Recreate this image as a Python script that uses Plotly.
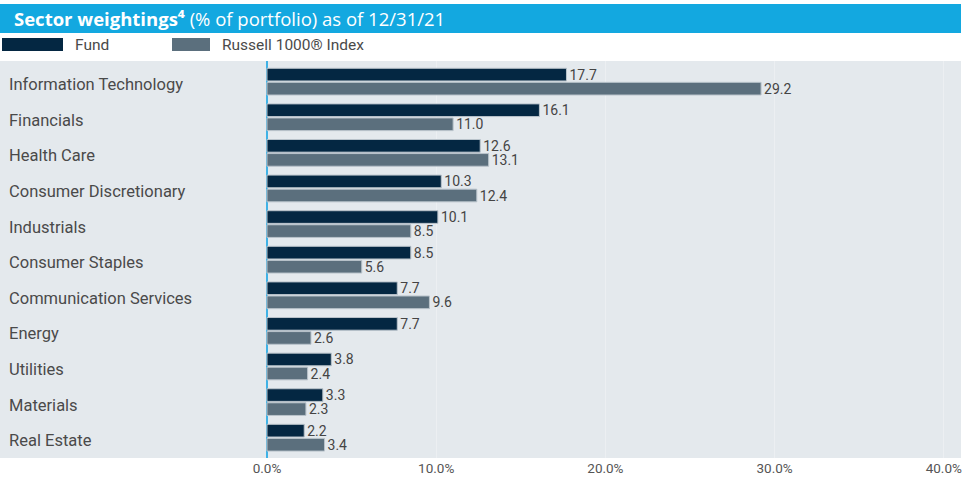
import plotly.graph_objects as go

categories = ["Information Technology", "Financials", "Health Care", "Consumer Discretionary",
              "Industrials", "Consumer Staples", "Communication Services", "Energy",
              "Utilities", "Materials", "Real Estate"]
fund = [17.7, 16.1, 12.6, 10.3, 10.1, 8.5, 7.7, 7.7, 3.8, 3.3, 2.2]
index = [29.2, 11.0, 13.1, 12.4, 8.5, 5.6, 9.6, 2.6, 2.4, 2.3, 3.4]
tick_vals = [0, 10, 20, 30, 40]
tick_text = ["0.0%", "10.0%", "20.0%", "30.0%", "40.0%"]

W, H = 977, 478
L, R, T, B = 0, 16, 61, 20
PW, PH = W - L - R, H - T - B

def px(p):
    return (p - L) / PW

def py(p):
    return (H - B - p) / PH

FUND_C = "#042742"
IDX_C = "#5b6f7d"
LABEL_FONT = "Roboto"
NUM_FONT = "Roboto"

fig = go.Figure()
fig.add_trace(go.Bar(
    y=categories, x=fund, orientation="h", name="Fund",
    marker=dict(color=FUND_C, line=dict(color="#b9c3cb", width=1)),
    text=[f"{v:.1f}" for v in fund], textposition="outside", constraintext="none",
    textfont=dict(family=NUM_FONT, size=14, color="#444444"),
    cliponaxis=False, hoverinfo="skip"))
fig.add_trace(go.Bar(
    y=categories, x=index, orientation="h", name="Russell 1000® Index",
    marker=dict(color=IDX_C, line=dict(color="#b9c3cb", width=1)),
    text=[f"{v:.1f}" for v in index], textposition="outside", constraintext="none",
    textfont=dict(family=NUM_FONT, size=14, color="#444444"),
    cliponaxis=False, hoverinfo="skip"))

x_left = -267 / 16.92
x_right = (961 - 267) / 16.92

fig.update_layout(
    width=W, height=H,
    margin=dict(l=L, r=R, t=T, b=B),
    paper_bgcolor="white", plot_bgcolor="#e4e9ed",
    barmode="group", bargap=0.21, bargroupgap=0.1,
    showlegend=False,
    xaxis=dict(range=[x_left, x_right], tickvals=tick_vals, ticktext=tick_text,
               showgrid=True, gridcolor="#eceff2", gridwidth=1,
               zeroline=True, zerolinecolor="#3fb2e6", zerolinewidth=2,
               tickfont=dict(family=NUM_FONT, size=13.5, color="#555555"),
               ticks="", fixedrange=True),
    yaxis=dict(categoryorder="array", categoryarray=categories,
               range=[10.57, -0.58], showticklabels=False, showgrid=False,
               zeroline=False, fixedrange=True),
)

# category labels
for c in categories:
    fig.add_annotation(x=px(7), xref="paper", y=c, yref="y", text=c, showarrow=False,
                       xanchor="left", yanchor="middle", yshift=-3,
                       font=dict(family=LABEL_FONT, size=16.5, color="#4a4a4a"))

# title banner
fig.add_shape(type="rect", xref="paper", yref="paper", x0=px(0), x1=px(961),
              y0=py(33), y1=py(4), fillcolor="#13a8e0", line=dict(width=0), layer="below")
fig.add_annotation(x=px(12), xref="paper", y=py(18.5), yref="paper", showarrow=False,
                   xanchor="left", yanchor="middle",
                   text="<b>Sector weightings⁴</b> (% of portfolio) as of 12/31/21",
                   font=dict(family="Open Sans", size=18.5, color="white"))

# legend
fig.add_shape(type="rect", xref="paper", yref="paper", x0=px(2), x1=px(63),
              y0=py(51), y1=py(38), fillcolor=FUND_C, line=dict(width=0))
fig.add_annotation(x=px(73), xref="paper", y=py(45), yref="paper", showarrow=False,
                   xanchor="left", yanchor="middle", text="Fund",
                   font=dict(family=LABEL_FONT, size=15.5, color="#4a4a4a"))
fig.add_shape(type="rect", xref="paper", yref="paper", x0=px(172), x1=px(210),
              y0=py(51), y1=py(38), fillcolor=IDX_C, line=dict(width=0))
fig.add_annotation(x=px(220), xref="paper", y=py(45), yref="paper", showarrow=False,
                   xanchor="left", yanchor="middle", text="Russell 1000® Index",
                   font=dict(family=LABEL_FONT, size=15.5, color="#4a4a4a"))

fig.write_html("out.html", config={"displayModeBar": False},
               post_script="document.body.style.margin='0';")
